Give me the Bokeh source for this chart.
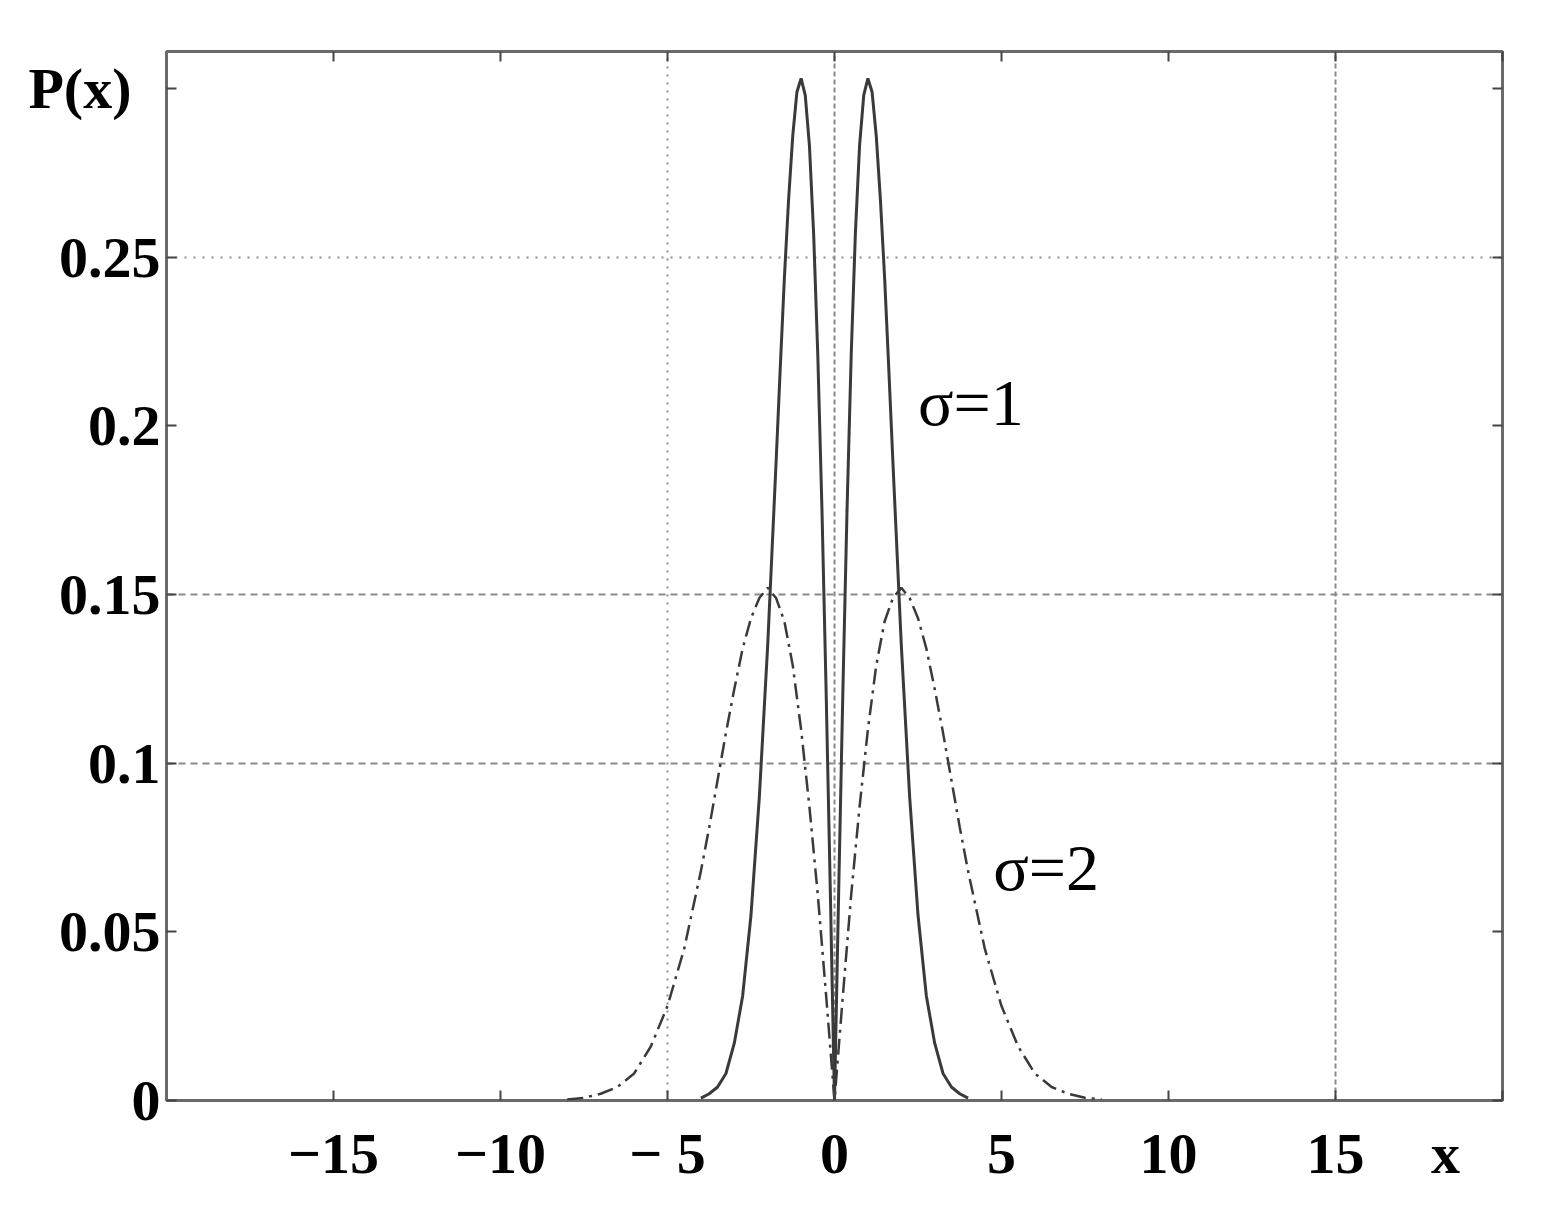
from bokeh.plotting import figure
from bokeh.models import Range1d, LinearAxis, FixedTicker, Grid, Label
from bokeh.embed import file_html
from bokeh.resources import INLINE

# ---- data ----
x_s1 = [0, 0.125, 0.25, 0.375, 0.5, 0.625, 0.75, 0.875, 1.0, 1.125, 1.25, 1.375, 1.5, 1.625, 1.75, 1.875,
        2.0, 2.25, 2.5, 2.75, 3.0, 3.25, 3.5, 3.75, 4.0]
p_s1 = [0, 0.062, 0.121, 0.175, 0.221, 0.257, 0.283, 0.298, 0.303, 0.299, 0.286, 0.267, 0.244, 0.217, 0.189, 0.162,
        0.135, 0.090, 0.055, 0.031, 0.017, 0.008, 0.004, 0.002, 0.0007]
x_s2 = [0, 0.25, 0.5, 0.75, 1.0, 1.25, 1.5, 1.75, 2.0, 2.25, 2.5, 2.75, 3.0, 3.25, 3.5, 3.75,
        4.0, 4.5, 5.0, 5.5, 6.0, 6.5, 7.0, 7.5, 8.0]
p_s2 = [0, 0.031, 0.061, 0.087, 0.110, 0.129, 0.142, 0.149, 0.152, 0.149, 0.143, 0.134, 0.122, 0.109, 0.095, 0.081,
        0.068, 0.045, 0.028, 0.016, 0.008, 0.004, 0.002, 0.0008, 0.0003]

x_ticks = [-15, -10, -5, 0, 5, 10, 15, 20]
x_tick_labels = ["\u221215", "\u221210", "\u2212 5", "0", "5", "10", "15", "x" + "\u00a0" * 5]
y_ticks = [0, 0.05, 0.1, 0.15, 0.2, 0.25, 0.3]
y_tick_labels = ["0", "0.05", "0.1", "0.15", "0.2", "0.25", "P(x)" + "\u00a0" * 2]

grid_x_dotted = [-5]
grid_x_dashed = [0, 15]
grid_y_dotted = [0.25]
grid_y_dashed = [0.15, 0.1]

series_labels = ["\u03c3=1", "\u03c3=2"]
label_pos = [(2.5, 0.207), (4.75, 0.069)]

FONT = "Liberation Serif"

p = figure(width=1532, height=1205, x_range=Range1d(-20, 20), y_range=Range1d(0, 0.311),
           output_backend="svg", toolbar_location=None,
           x_axis_location=None, y_axis_location=None,
           min_border_left=166, min_border_right=30, min_border_top=51, min_border_bottom=105)
p.center = [r for r in p.center if not isinstance(r, Grid)]
p.outline_line_color = "#6a6a6a"
p.outline_line_width = 3
p.background_fill_color = "white"
p.border_fill_color = "white"

def style_axis(ax, show_labels):
    ax.axis_line_color = None
    ax.major_tick_in = 10
    ax.major_tick_out = 0
    ax.major_tick_line_color = "#444444"
    ax.major_tick_line_width = 2
    ax.minor_tick_line_color = None
    ax.major_label_text_font = FONT
    ax.major_label_text_font_style = "bold"
    ax.major_label_text_font_size = "58px"
    ax.major_label_text_color = "black"
    if not show_labels:
        ax.major_label_text_font_size = "0px"
        ax.major_label_standoff = 0

xb = LinearAxis(ticker=FixedTicker(ticks=x_ticks),
                major_label_overrides=dict(zip(x_ticks, x_tick_labels)))
style_axis(xb, True)
xb.major_label_standoff = 20
p.add_layout(xb, "below")

xt = LinearAxis(ticker=FixedTicker(ticks=x_ticks),
                major_label_overrides={t: "" for t in x_ticks})
style_axis(xt, False)
p.add_layout(xt, "above")

yl = LinearAxis(ticker=FixedTicker(ticks=y_ticks),
                major_label_overrides=dict(zip(y_ticks, y_tick_labels)))
style_axis(yl, True)
yl.major_label_standoff = 6
p.add_layout(yl, "left")

yr = LinearAxis(ticker=FixedTicker(ticks=y_ticks),
                major_label_overrides={t: "" for t in y_ticks})
style_axis(yr, False)
p.add_layout(yr, "right")

for dim, ticks, dash in [(0, grid_x_dotted, "2 6"), (0, grid_x_dashed, "5 3"),
                         (1, grid_y_dotted, "2 7"), (1, grid_y_dashed, "7 5")]:
    g = Grid(dimension=dim, ticker=FixedTicker(ticks=ticks))
    g.grid_line_color = "#8a8a8a"
    g.grid_line_width = 2
    g.grid_line_dash = dash
    p.add_layout(g, "center")

xs1 = [-v for v in reversed(x_s1)] + x_s1[1:]
ys1 = list(reversed(p_s1)) + p_s1[1:]
xs2 = [-v for v in reversed(x_s2)] + x_s2[1:]
ys2 = list(reversed(p_s2)) + p_s2[1:]

p.line(xs2, ys2, line_color="#3a3a3a", line_width=2.5, line_dash="16 6 3 6")
p.line(xs1, ys1, line_color="#3a3a3a", line_width=3)

for txt, (lx, ly) in zip(series_labels, label_pos):
    p.add_layout(Label(x=lx, y=ly, text=txt, text_font=FONT, text_font_size="66px",
                       text_color="black", text_baseline="middle", text_align="left"))

open("out.html", "w").write(file_html(p, INLINE))
